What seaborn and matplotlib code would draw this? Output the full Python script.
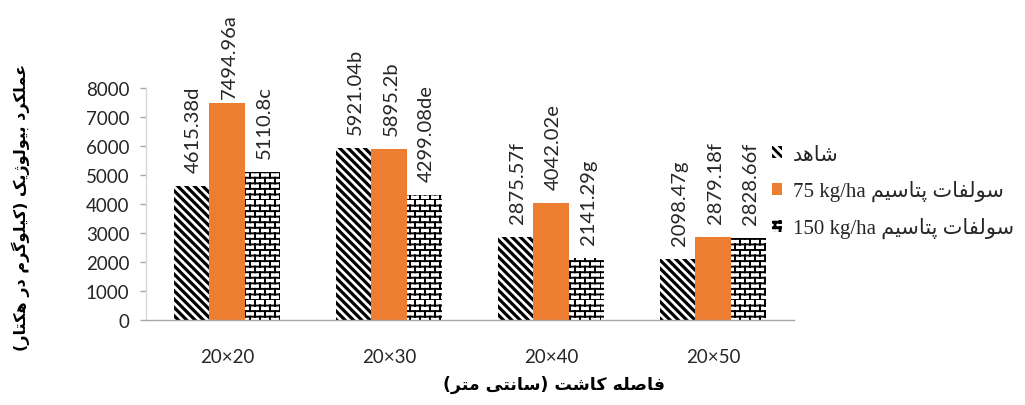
import warnings
import numpy as np
import pandas as pd
import matplotlib
matplotlib.use("Agg")
import matplotlib.pyplot as plt
import seaborn as sns
from matplotlib import hatch as mhatch
from matplotlib.patches import Patch
from matplotlib.path import Path

warnings.filterwarnings("ignore")

# ---------------- data ----------------
spacings = ["20×20", "20×30", "20×40", "20×50"]
control = [4615.38, 5921.04, 2875.57, 2098.47]
k75 = [7494.96, 5895.2, 4042.02, 2879.18]
k150 = [5110.8, 4299.08, 2141.29, 2828.66]
control_letters = ["d", "b", "f", "g"]
k75_letters = ["a", "b", "e", "f"]
k150_letters = ["c", "de", "g", "f"]

y_label_fa = "عملکرد بیولوژیک (کیلوگرم در هکتار)"
x_label_fa = "فاصله کاشت (سانتی متر)"
control_fa = "شاهد"
potash_fa = "سولفات پتاسیم"
dose75 = "75 kg/ha"
dose150 = "150 kg/ha"
y_ticks = [0, 1000, 2000, 3000, 4000, 5000, 6000, 7000, 8000]

# ---------------- Persian shaping (presentation forms, visual order) ----------------
FORMS = {
    "\u0627": ("\uFE8D", "\uFE8E", None, None),
    "\u0628": ("\uFE8F", "\uFE90", "\uFE91", "\uFE92"),
    "\u067E": ("\uFB56", "\uFB57", "\uFB58", "\uFB59"),
    "\u062A": ("\uFE95", "\uFE96", "\uFE97", "\uFE98"),
    "\u062F": ("\uFEA9", "\uFEAA", None, None),
    "\u0631": ("\uFEAD", "\uFEAE", None, None),
    "\u0698": ("\uFB8A", "\uFB8B", None, None),
    "\u0633": ("\uFEB1", "\uFEB2", "\uFEB3", "\uFEB4"),
    "\u0634": ("\uFEB5", "\uFEB6", "\uFEB7", "\uFEB8"),
    "\u0635": ("\uFEB9", "\uFEBA", "\uFEBB", "\uFEBC"),
    "\u0639": ("\uFEC9", "\uFECA", "\uFECB", "\uFECC"),
    "\u0641": ("\uFED1", "\uFED2", "\uFED3", "\uFED4"),
    "\u06A9": ("\uFB8E", "\uFB8F", "\uFB90", "\uFB91"),
    "\u0643": ("\uFB8E", "\uFB8F", "\uFB90", "\uFB91"),
    "\u06AF": ("\uFB92", "\uFB93", "\uFB94", "\uFB95"),
    "\u0644": ("\uFEDD", "\uFEDE", "\uFEDF", "\uFEE0"),
    "\u0645": ("\uFEE1", "\uFEE2", "\uFEE3", "\uFEE4"),
    "\u0646": ("\uFEE5", "\uFEE6", "\uFEE7", "\uFEE8"),
    "\u0647": ("\uFEE9", "\uFEEA", "\uFEEB", "\uFEEC"),
    "\u0648": ("\uFEED", "\uFEEE", None, None),
    "\u06CC": ("\uFBFC", "\uFBFD", "\uFBFE", "\uFBFF"),
    "\u064A": ("\uFBFC", "\uFBFD", "\uFBFE", "\uFBFF"),
}


def shape(word):
    out = []
    n = len(word)
    for i, ch in enumerate(word):
        f = FORMS.get(ch)
        if f is None:
            out.append(ch)
            continue
        prev = word[i - 1] if i > 0 else None
        nxt = word[i + 1] if i < n - 1 else None
        jp = prev in FORMS and FORMS[prev][2] is not None
        jn = f[2] is not None and nxt in FORMS
        if jp and jn:
            out.append(f[3])
        elif jp:
            out.append(f[1])
        elif jn:
            out.append(f[2])
        else:
            out.append(f[0])
    return "".join(out)


def rtl(s):
    mirror = {"(": ")", ")": "("}
    return "".join(mirror.get(c, c) for c in reversed(shape(s)))


# ---------------- brick hatch ----------------
class BrickHatch(mhatch.HatchPatternBase):
    def __init__(self, hatch, density):
        self.rows = 18 if "b" in hatch else 0
        self.cols = 10
        self.num_vertices = self.rows * (2 + 2 * self.cols)

    def set_vertices_and_codes(self, vertices, codes):
        k = 0
        for r in range(self.rows):
            y0 = r / self.rows
            y1 = (r + 1) / self.rows
            vertices[k] = (0.0, y0); codes[k] = Path.MOVETO; k += 1
            vertices[k] = (1.0, y0); codes[k] = Path.LINETO; k += 1
            off = 0.0 if r % 2 == 0 else 0.5 / self.cols
            for c in range(self.cols):
                x = c / self.cols + off
                vertices[k] = (x, y0); codes[k] = Path.MOVETO; k += 1
                vertices[k] = (x, y1); codes[k] = Path.LINETO; k += 1


mhatch._hatch_types.append(BrickHatch)

# ---------------- style ----------------
sns.set_theme(style="white")
plt.rcParams["font.family"] = ["Lato", "DejaVu Sans"]
plt.rcParams["hatch.linewidth"] = 2.0

orange = "#ED7D31"
txt_color = "#262626"
diag = "\\\\\\\\"

df = pd.DataFrame({
    "spacing": spacings * 3,
    "yield": control + k75 + k150,
    "treatment": ["c"] * 4 + ["k75"] * 4 + ["k150"] * 4,
})

fig = plt.figure(figsize=(10.25, 4.06), dpi=100)
ax = fig.add_axes([146 / 1025, 1 - 321 / 406, 648 / 1025, 232 / 406])

sns.barplot(data=df, x="spacing", y="yield", hue="treatment",
            hue_order=["c", "k75", "k150"], order=spacings,
            palette=["white", orange, "white"], saturation=1,
            width=0.66, legend=False, errorbar=None, ax=ax)

hatches = [diag, None, "b"]
hlw = [2.3, None, 1.4]
for cont, h, lw in zip(ax.containers, hatches, hlw):
    for bar in cont:
        bar.set_linewidth(0)
        if h is not None:
            bar.set_hatch(h)
            bar.set_edgecolor("black")
            if hasattr(bar, "set_hatch_linewidth"):
                bar.set_hatch_linewidth(lw)
        else:
            bar.set_edgecolor(orange)

label_sets = [
    [f"{v}{l}" for v, l in zip(control, control_letters)],
    [f"{v}{l}" for v, l in zip(k75, k75_letters)],
    [f"{v}{l}" for v, l in zip(k150, k150_letters)],
]
for cont, labels in zip(ax.containers, label_sets):
    for bar, lab in zip(cont, labels):
        h = bar.get_height()
        pad = 3 if h > 7000 else 10
        ax.annotate(lab, (bar.get_x() + bar.get_width() / 2, h),
                    xytext=(1.5, pad), textcoords="offset points",
                    rotation=90, ha="center", va="bottom",
                    fontsize=14.5, color=txt_color, annotation_clip=False)

ax.set_ylim(0, 8000)
ax.set_xlim(-0.5, 3.5)
ax.set_yticks(y_ticks)
ax.set_yticklabels([str(t) for t in y_ticks], fontsize=13.5, color=txt_color)
ax.set_xticks(range(len(spacings)))
ax.set_xticklabels(spacings, fontsize=13.5, color=txt_color)
ax.set_xticks(np.arange(-0.5, len(spacings), 1.0), minor=True)
ax.tick_params(axis="x", which="major", length=0, pad=20)
ax.tick_params(axis="x", which="minor", length=6, color="#A6A6A6", width=1)
ax.tick_params(axis="y", which="major", length=4, color="#A6A6A6", width=1, pad=8, left=True)

for s in ["top", "right"]:
    ax.spines[s].set_visible(False)
ax.spines["left"].set_color("#D9D9D9")
ax.spines["bottom"].set_color("#A6A6A6")
ax.spines["left"].set_linewidth(1)
ax.spines["bottom"].set_linewidth(1)

ax.set_ylabel(rtl(y_label_fa), fontsize=11.5, color="black",
              family=["DejaVu Sans"], fontweight="bold")
ax.yaxis.set_label_coords(-0.179, 0.49)
ax.set_xlabel(rtl(x_label_fa), fontsize=12.5, color="black",
              family=["DejaVu Sans"], fontweight="bold")
ax.xaxis.set_label_coords(0.63, -0.235)

handles = [
    Patch(facecolor="white", edgecolor="black", hatch=diag, linewidth=0),
    Patch(facecolor=orange, edgecolor=orange, linewidth=0),
    Patch(facecolor="white", edgecolor="black", hatch="b", linewidth=0),
]
labels = [
    rtl(control_fa),
    dose75 + " " + rtl(potash_fa),
    dose150 + " " + rtl(potash_fa),
]
leg = fig.legend(handles, labels, loc="center left",
                 bbox_to_anchor=(0.745, 0.525), frameon=False,
                 prop={"family": ["Liberation Serif", "DejaVu Sans"], "size": 15},
                 handlelength=0.5, handleheight=0.5, handletextpad=0.5,
                 labelspacing=0.75, borderaxespad=0)

fig.savefig("out.png", dpi=100)
